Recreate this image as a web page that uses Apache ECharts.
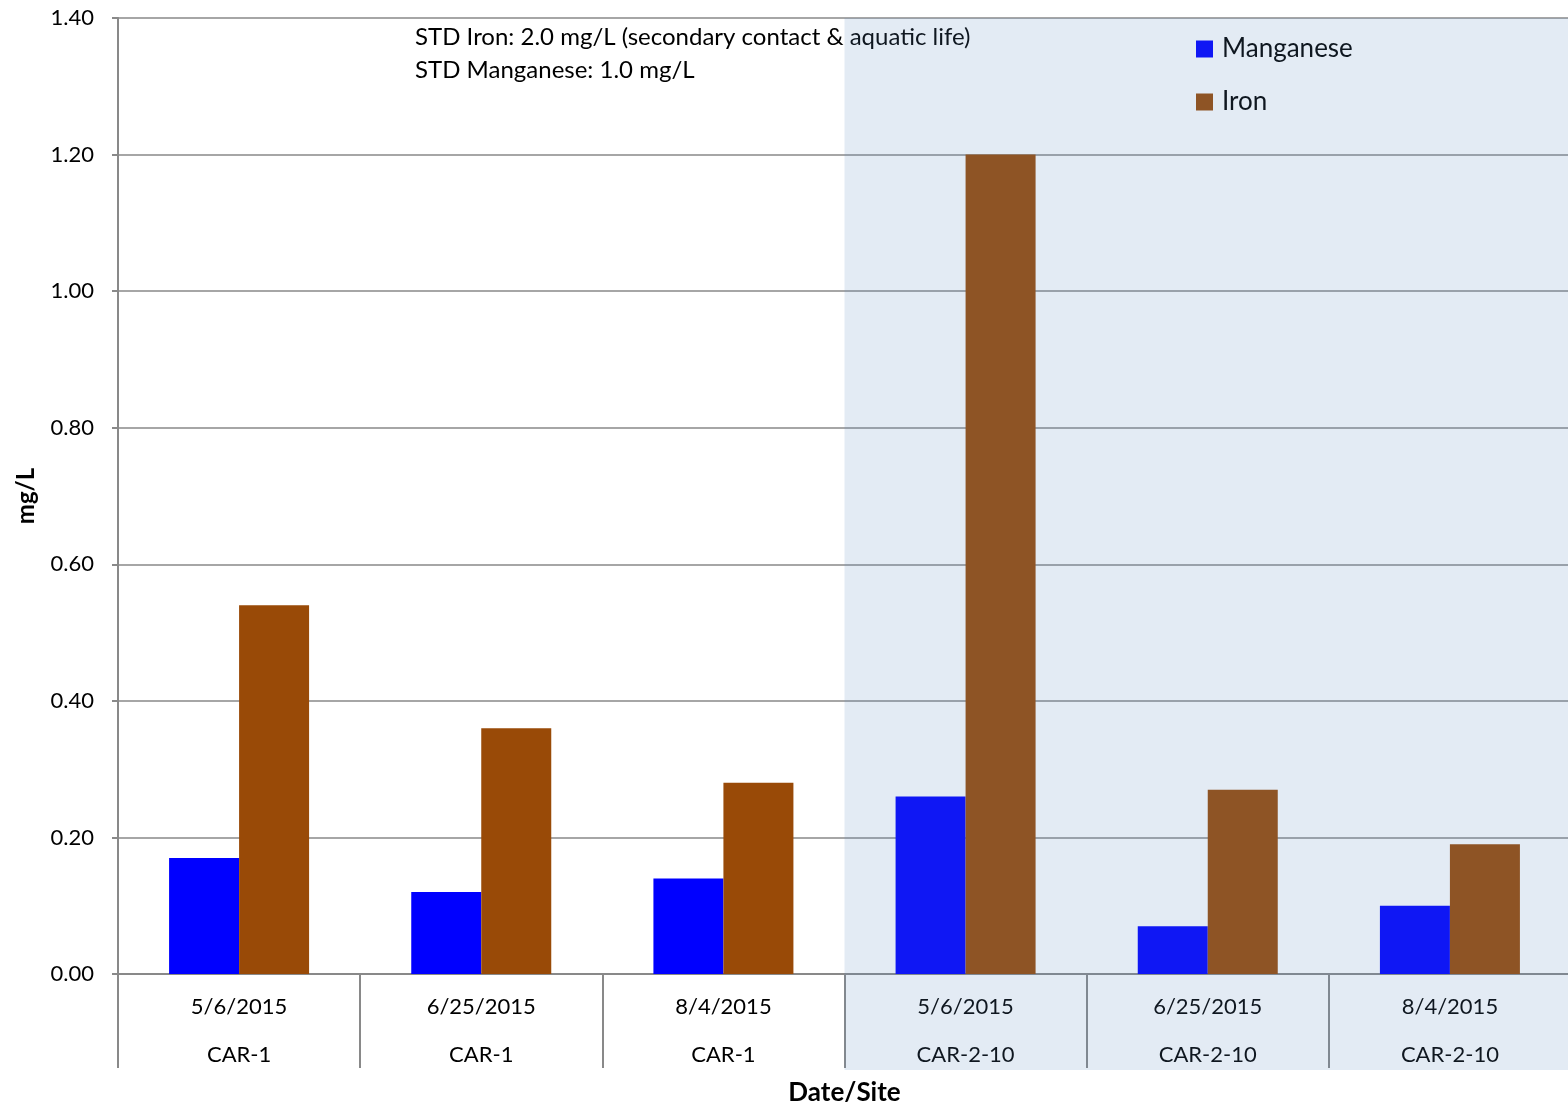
<!DOCTYPE html>
<html>
<head>
<meta charset="utf-8">
<script src="https://cdn.jsdelivr.net/npm/echarts@6/dist/echarts.min.js"></script>
<style>
  html, body { margin: 0; padding: 0; background: #fff; }
  #chart { width: 1568px; height: 1110px; }
</style>
</head>
<body>
<div id="chart"></div>
<script>
// data
var dates = ['5/6/2015', '6/25/2015', '8/4/2015', '5/6/2015', '6/25/2015', '8/4/2015']
var sites = ['CAR-1', 'CAR-1', 'CAR-1', 'CAR-2-10', 'CAR-2-10', 'CAR-2-10']
var manganese = [0.17, 0.12, 0.14, 0.26, 0.07, 0.10]
var iron = [0.54, 0.36, 0.28, 1.20, 0.27, 0.19]
var notes = ['STD Iron: 2.0 mg/L (secondary contact & aquatic life)', 'STD Manganese: 1.0 mg/L']

var font = 'Lato, "Open Sans", sans-serif'
var categories = dates.map(function (d, i) { return d + '|' + sites[i] })

var chart = echarts.init(document.getElementById('chart'))
var option = {
  animation: false,
  textStyle: { fontFamily: font },
  grid: { left: 118, right: -3, top: 18, bottom: 136, outerBoundsMode: 'none', containLabel: false },
  legend: {
    orient: 'vertical',
    left: 1191,
    top: 31,
    itemWidth: 17,
    itemHeight: 17,
    itemGap: 27,
    icon: 'rect',
    textStyle: { fontSize: 26, color: '#000', fontFamily: font, padding: [0, 0, 0, 4] },
    data: ['Manganese', 'Iron'],
  },
  xAxis: {
    type: 'category',
    data: categories,
    name: 'Date/Site',
    nameLocation: 'middle',
    nameGap: 106,
    nameTextStyle: { fontSize: 26, fontWeight: 'bold', color: '#000', fontFamily: font },
    axisLine: { lineStyle: { color: '#898989', width: 2 } },
    axisTick: { show: true, length: 94, lineStyle: { color: '#898989', width: 2 } },
    axisLabel: {
      margin: 9,
      interval: 0,
      formatter: function (v) {
        var p = v.split('|')
        return '{d|' + p[0] + '}\n{s|' + p[1] + '}'
      },
      rich: {
        d: { fontSize: 22, lineHeight: 48, color: '#000', fontFamily: font },
        s: { fontSize: 22, lineHeight: 48, color: '#000', fontFamily: font },
      },
    },
  },
  yAxis: {
    type: 'value',
    min: 0,
    max: 1.4,
    interval: 0.2,
    name: 'mg/L',
    nameLocation: 'middle',
    nameGap: 80,
    nameTextStyle: { fontSize: 24, fontWeight: 'bold', color: '#000', fontFamily: font },
    axisLine: { show: true, lineStyle: { color: '#898989', width: 2 } },
    axisTick: { show: true, length: 6, lineStyle: { color: '#898989', width: 2 } },
    axisLabel: {
      margin: 24,
      fontSize: 22,
      color: '#000',
      formatter: function (v) { return v.toFixed(2) },
    },
    splitLine: { lineStyle: { color: '#898989', width: 1.5 } },
  },
  series: [
    {
      name: 'Manganese',
      type: 'bar',
      data: manganese,
      barWidth: 70,
      barGap: '0%',
      itemStyle: { color: '#0000ff' },
    },
    {
      name: 'Iron',
      type: 'bar',
      data: iron,
      barWidth: 70,
      itemStyle: { color: '#994a07' },
    },
  ],
}
chart.setOption(option)

// shaded CAR-2-10 panel and the standards note
var xa = chart.convertToPixel({ xAxisIndex: 0 }, categories[2])
var xb = chart.convertToPixel({ xAxisIndex: 0 }, categories[3])
var x0 = (xa + xb) / 2
var yTop = chart.convertToPixel({ yAxisIndex: 0 }, 1.4)
var yBase = chart.convertToPixel({ yAxisIndex: 0 }, 0)
chart.setOption({
  graphic: [
    {
      type: 'text',
      left: 415,
      top: 21,
      z: 50,
      style: {
        text: notes.join('\n'),
        font: '24px ' + font,
        lineHeight: 33,
        fill: '#000',
      },
    },
    {
      type: 'rect',
      z: 100,
      silent: true,
      shape: { x: x0, y: yTop, width: 1568 - x0, height: yBase - yTop + 96 },
      style: { fill: 'rgba(89,136,189,0.17)' },
    },
  ],
})
</script>
</body>
</html>
